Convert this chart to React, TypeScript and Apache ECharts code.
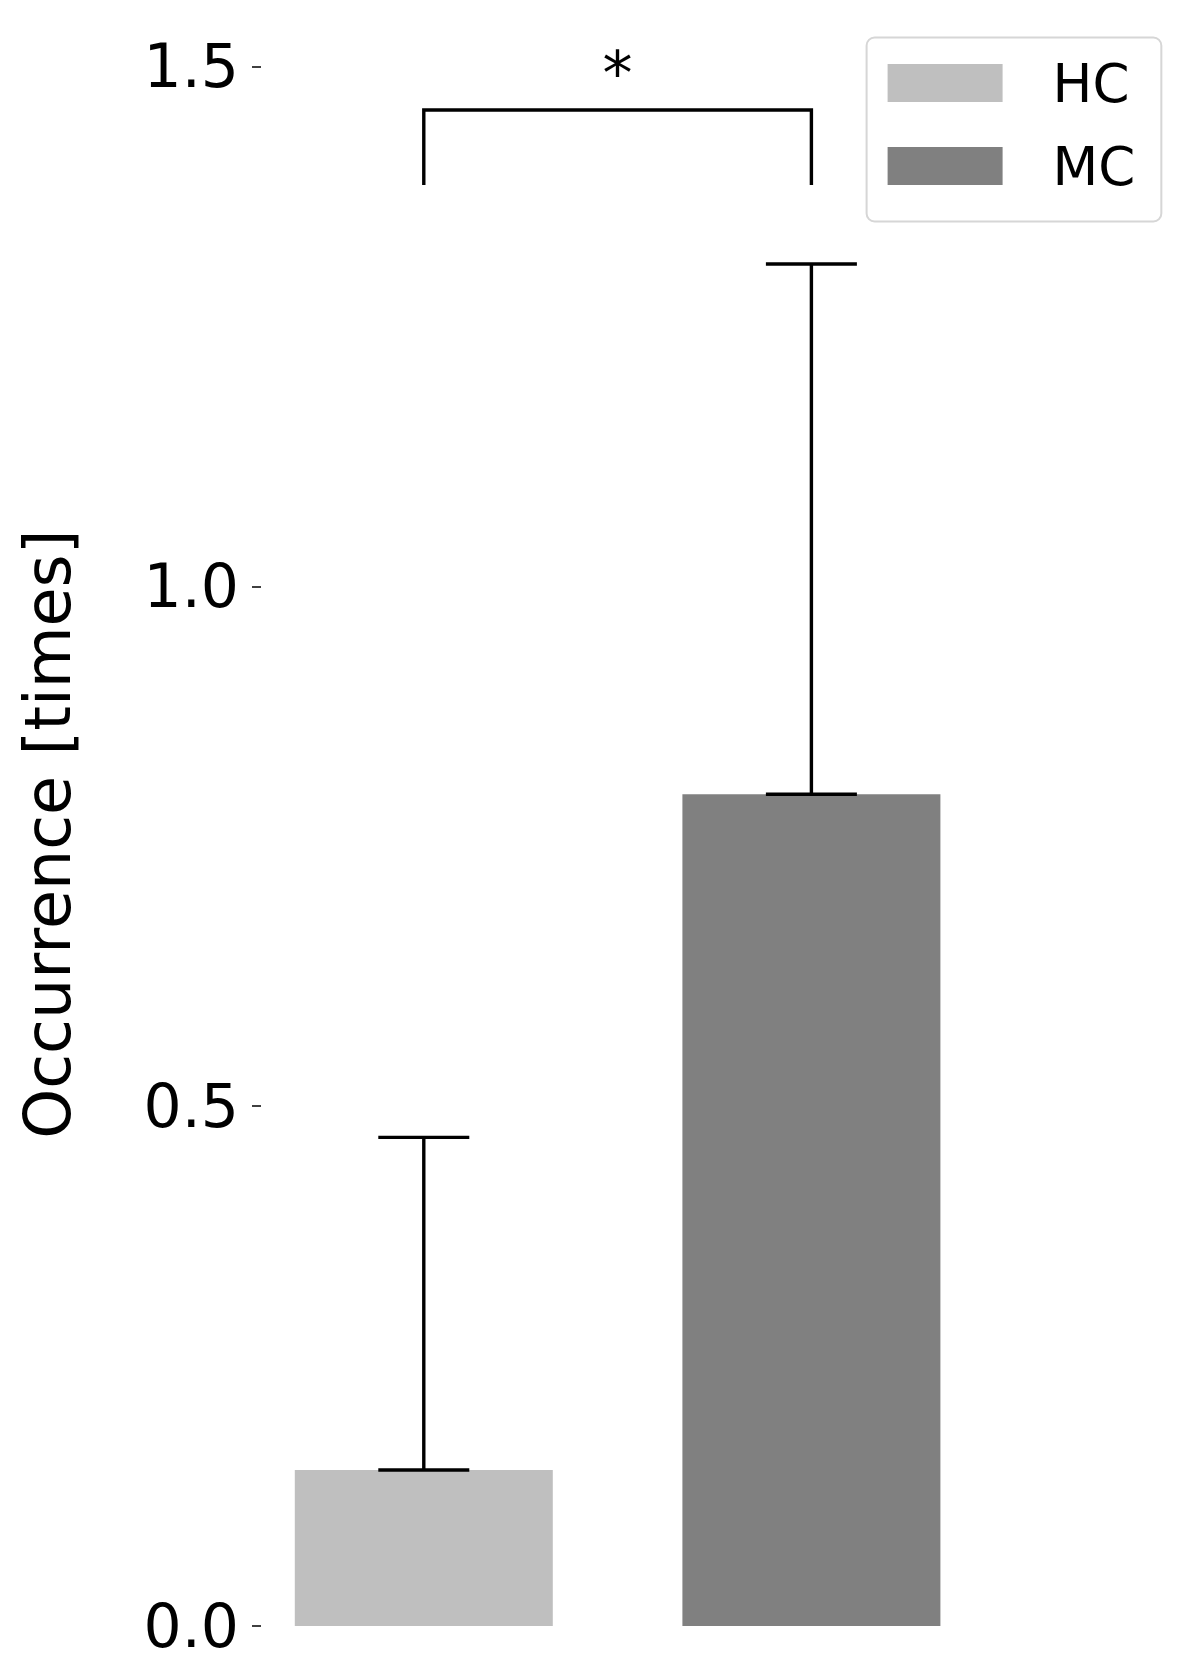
import React, { useEffect, useRef } from "react";
import * as echarts from "echarts";

const categories = ["HC", "MC"];
const xPositions = [0, 1];
const means = [0.15, 0.8];
const errors = [0.32, 0.51];
const barColors = ["#bfbfbf", "#808080"];
const yTicks = [0, 0.5, 1.0, 1.5];
const bracketX = [0, 1];
const bracketY = [1.386, 1.458];
const sigLabel = "*";
const sigLabelY = 1.494;

const FONT = "DejaVu Sans";

export default function App() {
  const ref = useRef<HTMLDivElement>(null);
  useEffect(() => {
    document.body.style.margin = "0";
    const chart = echarts.init(ref.current!, null, { renderer: "svg" });
    const barSeries = categories.map((name, i) => ({
      type: "bar",
      name,
      data: [[xPositions[i], means[i]]],
      barWidth: 258,
      barGap: "-100%",
      itemStyle: { color: barColors[i] },
      z: 2,
    }));
    const errData = categories.map((_, i) => [xPositions[i], means[i], means[i] + errors[i]]);
    const option: any = {
      animation: false,
      backgroundColor: "#ffffff",
      grid: { left: 261, right: 20, top: 66.4, bottom: 53, containLabel: false },
      xAxis: {
        type: "value",
        min: -0.42,
        max: 1.92,
        show: false,
      },
      yAxis: {
        type: "value",
        min: yTicks[0],
        max: yTicks[yTicks.length - 1],
        interval: 0.5,
        axisLine: { show: false, onZero: false },
        axisTick: { show: true, length: 9, lineStyle: { color: "#000", width: 1.5 } },
        splitLine: { show: false },
        axisLabel: {
          color: "#000",
          fontSize: 60,
          fontFamily: FONT,
          margin: 22,
          formatter: (v: number) => v.toFixed(1),
        },
        name: "Occurrence [times]",
        nameLocation: "middle",
        nameRotate: 90,
        nameGap: 181,
        nameTextStyle: { color: "#000", fontSize: 63.5, fontFamily: FONT, padding: [0, 0, 0, 24] },
      },
      legend: {
        data: categories,
        orient: "vertical",
        left: 866.6,
        top: 37.5,
        padding: [19, 26, 29, 21],
        itemWidth: 115,
        itemHeight: 38,
        itemGap: 30,
        icon: "rect",
        backgroundColor: "#ffffff",
        borderColor: "#d6d6d6",
        borderWidth: 2,
        borderRadius: 8,
        selectedMode: false,
        textStyle: { color: "#000", fontSize: 53, fontFamily: FONT, padding: [0, 0, 0, 45] },
      },
      series: [
        ...barSeries,
        {
          type: "custom",
          name: "err",
          data: errData,
          z: 5,
          clip: false,
          renderItem: (params: any, api: any) => {
            const x = api.value(0);
            const lo = api.coord([x, api.value(1)]);
            const hi = api.coord([x, api.value(2)]);
            const half = 45.5;
            const style = { stroke: "#000", lineWidth: 3.4 };
            return {
              type: "group",
              children: [
                { type: "line", shape: { x1: lo[0], y1: lo[1], x2: hi[0], y2: hi[1] }, style },
                { type: "line", shape: { x1: hi[0] - half, y1: hi[1], x2: hi[0] + half, y2: hi[1] }, style },
                { type: "line", shape: { x1: lo[0] - half, y1: lo[1], x2: lo[0] + half, y2: lo[1] }, style },
              ],
            };
          },
        },
        {
          type: "custom",
          name: "sig",
          data: [[bracketX[0], bracketX[1], bracketY[0], bracketY[1], sigLabelY]],
          z: 5,
          clip: false,
          renderItem: (params: any, api: any) => {
            const p1 = api.coord([api.value(0), api.value(2)]);
            const p2 = api.coord([api.value(0), api.value(3)]);
            const p3 = api.coord([api.value(1), api.value(3)]);
            const p4 = api.coord([api.value(1), api.value(2)]);
            const t = api.coord([(api.value(0) + api.value(1)) / 2, api.value(4)]);
            return {
              type: "group",
              children: [
                {
                  type: "polyline",
                  shape: { points: [p1, p2, p3, p4] },
                  style: { stroke: "#000", lineWidth: 3.4, fill: "none" },
                },
                {
                  type: "text",
                  x: t[0],
                  y: t[1],
                  style: {
                    text: sigLabel,
                    fontSize: 60,
                    fontFamily: FONT,
                    fill: "#000",
                    align: "center",
                    verticalAlign: "middle",
                  },
                },
              ],
            };
          },
        },
      ],
    };
    chart.setOption(option);
    return () => chart.dispose();
  }, []);
  return <div ref={ref} style={{ width: 1188, height: 1679 }} />;
}
